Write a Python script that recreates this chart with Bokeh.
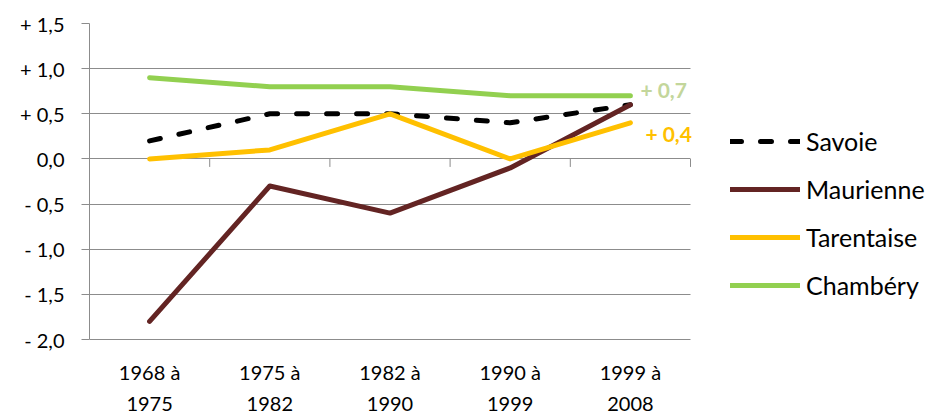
from bokeh.plotting import figure
from bokeh.models import Range1d, FixedTicker, Legend, LegendItem, Label
from bokeh.core.properties import value
from bokeh.embed import file_html
from bokeh.resources import INLINE

periods = ["1968 à\n1975", "1975 à\n1982", "1982 à\n1990", "1990 à\n1999", "1999 à\n2008"]
savoie = [0.2, 0.5, 0.5, 0.4, 0.6]
maurienne = [-1.8, -0.3, -0.6, -0.1, 0.6]
tarentaise = [0.0, 0.1, 0.5, 0.0, 0.4]
chambery = [0.9, 0.8, 0.8, 0.7, 0.7]
y_ticks = [-2.0, -1.5, -1.0, -0.5, 0.0, 0.5, 1.0, 1.5]
y_tick_labels = ["- 2,0", "- 1,5", "- 1,0", "- 0,5", "0,0", "+ 0,5", "+ 1,0", "+ 1,5"]
label_chambery = "+ 0,7"
label_tarentaise = "+ 0,4"

FONT = "Lato"
GRID = "#8c8c8c"

# layout (pixels)
W, H = 929, 414
LEFT, TOP = 89, 23
PLOT_W, PLOT_H = 601, 316     # visible plot area (categories, -2..1.5)
ymin, ymax = y_ticks[0], y_ticks[-1]
n = len(periods)
upp_y = (ymax - ymin) / PLOT_H
upp_x = n / PLOT_W
x_end = 0.5 + (W - LEFT) * upp_x
y_start = ymin - (H - TOP - PLOT_H) * upp_y

x = list(range(1, n + 1))
bounds = [i + 0.5 for i in range(0, n + 1)]

p = figure(width=W, height=H, x_range=Range1d(0.5, x_end),
           y_range=Range1d(y_start, ymax), output_backend="svg", toolbar_location=None,
           x_axis_location=None,
           min_border_left=LEFT, min_border_right=0, min_border_top=TOP, min_border_bottom=0)
p.outline_line_color = None
p.background_fill_color = "white"

# y axis
p.yaxis.ticker = FixedTicker(ticks=y_ticks)
p.yaxis.bounds = (ymin, ymax)
p.yaxis.major_label_overrides = {t: l for t, l in zip(y_ticks, y_tick_labels)}
p.yaxis.axis_line_color = GRID
p.yaxis.major_tick_line_color = GRID
p.yaxis.major_tick_in = 0
p.yaxis.major_tick_out = 8
p.yaxis.minor_tick_line_color = None
p.yaxis.major_label_standoff = 17
p.yaxis.major_label_text_font = FONT
p.yaxis.major_label_text_font_size = "20px"
p.yaxis.major_label_text_color = "black"

p.xgrid.grid_line_color = None
p.ygrid.grid_line_color = GRID
p.ygrid.ticker = FixedTicker(ticks=y_ticks)
p.ygrid.cross_bounds = (0.5, n + 0.5)

# category boundary ticks on the zero line
tick_len = 8 * upp_y
p.segment(x0=bounds, y0=[0] * len(bounds), x1=bounds, y1=[-tick_len] * len(bounds),
          line_color=GRID, line_width=1)

# category labels
p.text(x=x, y=[ymin] * n, text=periods, y_offset=48, text_align="center",
       text_baseline="middle", text_font=value(FONT), text_font_size="20px",
       text_color="black", text_line_height=1.3)

LW = 5
r_sav = p.line(x, savoie, line_color="black", line_width=LW, line_dash="11 19", line_cap="round")
r_mau = p.line(x, maurienne, line_color="#632423", line_width=LW, line_cap="round", line_join="round")
r_tar = p.line(x, tarentaise, line_color="#FFC000", line_width=LW, line_cap="round", line_join="round")
r_cha = p.line(x, chambery, line_color="#92D050", line_width=LW, line_cap="round", line_join="round")

legend = Legend(items=[LegendItem(label="Savoie", renderers=[r_sav]),
                       LegendItem(label="Maurienne", renderers=[r_mau]),
                       LegendItem(label="Tarentaise", renderers=[r_tar]),
                       LegendItem(label="Chambéry", renderers=[r_cha])],
                location=(641, 114), glyph_width=70, glyph_height=24, label_height=24,
                spacing=18, padding=0, margin=0, border_line_color=None,
                background_fill_alpha=0, label_standoff=6, label_text_font=FONT,
                label_text_font_size="25px", label_text_color="black")
p.add_layout(legend, "center")

p.add_layout(Label(x=x[-1], y=chambery[-1], text=label_chambery, x_offset=10, y_offset=6,
                   text_baseline="middle", text_color="#C3D69B", text_font=FONT,
                   text_font_style="bold", text_font_size="21px"))
p.add_layout(Label(x=x[-1], y=tarentaise[-1], text=label_tarentaise, x_offset=15, y_offset=-11,
                   text_baseline="middle", text_color="#FFC000", text_font=FONT,
                   text_font_style="bold", text_font_size="21px"))

open("out.html", "w").write(file_html(p, INLINE))
